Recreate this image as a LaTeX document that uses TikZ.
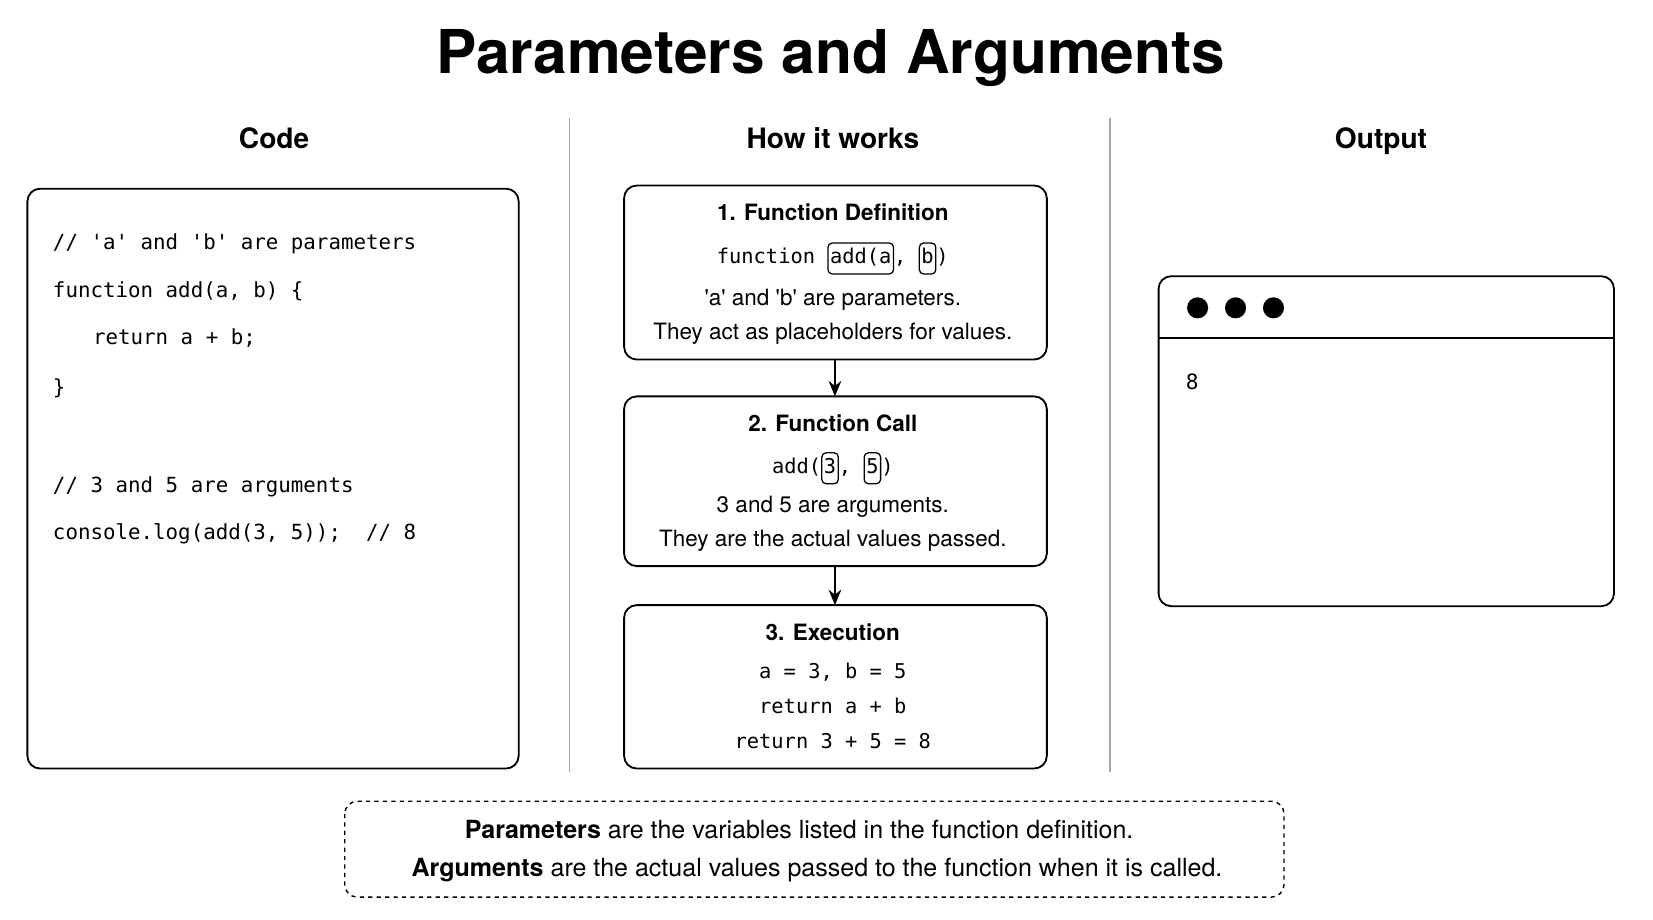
\documentclass[tikz,border=0pt]{standalone}
\usepackage{fontspec}
\setmainfont{TeX Gyre Heros}
\setmonofont{DejaVu Sans Mono}
\usetikzlibrary{arrows.meta}
\begin{document}
\newcommand\ibx[1]{\tikz[baseline=(q.base)]\node[draw,rounded corners=3pt,inner xsep=1.5pt,inner ysep=2pt,line width=0.9pt](q){\strut #1};}
\newcommand\sq{\textquotesingle}
\begin{tikzpicture}[x=0.75pt,y=-0.75pt,
 box/.style={draw,line width=1.3pt,rounded corners=9pt},
 hd/.style={font=\fontsize{20}{24}\selectfont\bfseries,anchor=base},
 bt/.style={font=\fontsize{16}{19}\selectfont,anchor=base},
 nt/.style={font=\fontsize{17.8}{21}\selectfont,anchor=base},
 bb/.style={font=\fontsize{16}{19}\selectfont\bfseries,anchor=base},
 mt/.style={font=\fontsize{14.5}{18}\ttfamily,anchor=base},
 cd/.style={font=\fontsize{14.8}{18}\ttfamily,anchor=base west,inner sep=0pt},
 arr/.style={-{Stealth[length=11pt,width=9pt]},line width=1.3pt}]
\useasboundingbox (0,0) rectangle (1568,872);
\node[anchor=base] (title) at (788,70) {\fontsize{43}{50}\selectfont\bfseries Parameters and Arguments};
\node[hd] (h1) at (260,141) {Code};
\node[hd] (h2) at (790,141) {How it works};
\node[hd] (h3) at (1310,141) {Output};
\draw[gray!70,line width=1pt] (540,112) -- (540,732);
\draw[gray!70,line width=1pt] (1053,112) -- (1053,732);
% code
\draw[box] (26,179) rectangle (492,729);
\node[cd] (c1) at (50,237) {// \sq a\sq{} and \sq b\sq{} are parameters};
\node[cd] (c2) at (50,282) {function add(a, b) \{};
\node[cd] (c3) at (88,327) {return a + b;};
\node[cd] (c4) at (50,374) {\}};
\node[cd] (c5) at (50,467) {// 3 and 5 are arguments};
\node[cd] (c6) at (50,512) {console.log(add(3, 5));~~// 8};
% how it works
\draw[box] (592,176) rectangle (993,341);
\draw[box] (592,376) rectangle (993,537);
\draw[box] (592,574) rectangle (993,729);
\coordinate (b1s) at (792,341); \coordinate (b2n) at (792,376);
\coordinate (b2s) at (792,537); \coordinate (b3n) at (792,574);
\draw[arr] (b1s) -- (b2n);
\draw[arr] (b2s) -- (b3n);
\node[bb] (t1) at (790,209) {1. Function Definition};
\node[mt] (t2) at (790,250) {function \ibx{add(a}, \ibx{b})};
\node[bt] (t3) at (790,290) {\sq a\sq{} and \sq b\sq{} are parameters.};
\node[bt] (t4) at (790,322) {They act as placeholders for values.};
\node[bb] (u1) at (790,409) {2. Function Call};
\node[mt] (u2) at (790,449) {add(\ibx{3}, \ibx{5})};
\node[bt] (u3) at (790,486) {3 and 5 are arguments.};
\node[bt] (u4) at (790,518) {They are the actual values passed.};
\node[bb] (v1) at (790,608) {3. Execution};
\node[mt] (v2) at (790,644) {a = 3, b = 5};
\node[mt] (v3) at (790,677) {return a + b};
\node[mt] (v4) at (790,710) {return 3 + 5 = 8};
% output
\draw[box] (1099,262) rectangle (1531,575);
\draw[line width=1.3pt] (1099,321) -- (1531,321);
\foreach \x in {1136,1172,1208} \fill (\x,292) circle (10);
\node[font=\fontsize{15}{18}\ttfamily,anchor=base] (o) at (1131,369) {8};
% note
\draw[line width=1pt,dashed,rounded corners=9pt] (327,760) rectangle (1218,851);
\node[nt] (n1) at (758,795) {\textbf{Parameters} are the variables listed in the function definition.};
\node[nt] (n2) at (775,831) {\textbf{Arguments} are the actual values passed to the function when it is called.};
\end{tikzpicture}
\end{document}
